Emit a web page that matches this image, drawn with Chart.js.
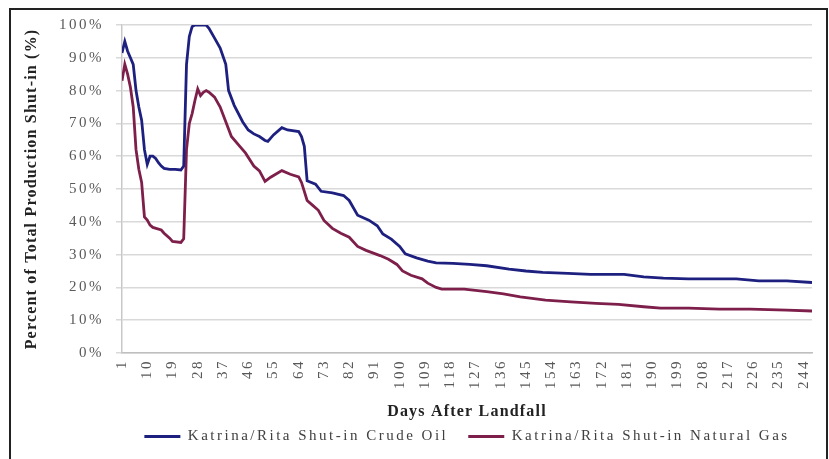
<!DOCTYPE html>
<html>
<head>
<meta charset="utf-8">
<script src="https://cdn.jsdelivr.net/npm/chart.js@4"></script>
<style>
  html, body { margin: 0; padding: 0; background: #fff; }
  #wrap { width: 829px; height: 459px; }
</style>
</head>
<body>
<div id="wrap"><canvas id="lineChart" width="829" height="459"></canvas></div>
<script>
'use strict';
// days after landfall and % shut-in
const oilDays = [1, 2, 3, 4, 5, 6, 7, 8, 9, 10, 11, 12, 13, 14, 15, 16, 18, 20, 22, 23, 24, 25, 26, 27, 31, 32, 34, 36, 38, 39,
    41, 44, 46, 48, 50, 52, 53, 55, 58, 60, 64, 65, 66, 67, 70, 72, 76, 80, 82, 85, 89, 92, 94, 97, 100, 102, 106, 110, 113,
    119, 125, 131, 139, 145, 151, 160, 168, 180, 187, 194, 203, 220, 228, 238, 247];
const oilValues = [91.5, 95, 92, 90, 88, 80, 75, 71, 62, 57.5, 60, 60, 59.3, 58, 57, 56.3, 56, 56, 55.8, 57, 88, 96.5, 99.5, 100, 100, 99, 96, 93, 88, 80,
    75.5, 70.5, 68, 66.8, 66, 64.8, 64.5, 66.5, 68.7, 68, 67.5, 66, 63, 52.5, 51.5, 49.3, 48.8, 48, 46.5, 42, 40.5, 38.8, 36.3, 34.7, 32.5, 30.2, 29, 28, 27.5,
    27.3, 27, 26.6, 25.6, 25, 24.6, 24.3, 24, 24, 23.2, 22.8, 22.6, 22.6, 22, 22, 21.5];

const gasDays = [1, 2, 3, 4, 5, 6, 7, 8, 9, 10, 11, 12, 15, 16, 18, 19, 22, 23, 24, 25, 26, 27, 28, 29, 30, 31, 32, 34, 36, 38,
    40, 43, 45, 48, 50, 52, 54, 58, 61, 64, 65, 67, 69, 71, 73, 76, 79, 82, 85, 88, 93, 96, 99, 101, 104, 108, 110, 113, 115,
    123, 131, 137, 143, 152, 161, 170, 178, 187, 193, 203, 214, 225, 238, 247];
const gasValues = [83, 88, 85, 81, 75, 62, 56, 52, 41.5, 40.5, 39, 38.3, 37.5, 36.5, 35, 34, 33.7, 34.8, 62, 70, 73, 77, 80.5, 78.5, 79.5, 80, 79.5, 78, 75, 70.5,
    66, 63, 61, 57, 55.5, 52.3, 53.6, 55.6, 54.5, 53.7, 52, 46.5, 45, 43.5, 40.4, 38, 36.5, 35.3, 32.5, 31.3, 29.7, 28.6, 27, 25, 23.7, 22.6, 21.3, 20, 19.5,
    19.5, 18.7, 18, 17.1, 16.1, 15.6, 15.1, 14.8, 14.1, 13.7, 13.7, 13.4, 13.4, 13.1, 12.8];

const dayTicks = [1, 10, 19, 28, 37, 46, 55, 64, 73, 82, 91, 100, 109, 118, 127, 136, 145, 154, 163, 172, 181, 190, 199, 208, 217, 226, 235, 244];

const oilLabel = 'Katrina/Rita Shut-in Crude Oil';
const gasLabel = 'Katrina/Rita Shut-in Natural Gas';

const canvas = document.getElementById('lineChart');
const ctx = canvas.getContext('2d');

// the original text is drawn wide, so add letter spacing (less for the bold titles)
function spacingFor(font) {
    return /bold|700/.test(font) ? '1.2px' : '2.5px';
}
const origFill = ctx.fillText;
ctx.fillText = function (...args) {
    this.letterSpacing = spacingFor(this.font);
    return origFill.apply(this, args);
};
const origMeasure = ctx.measureText;
ctx.measureText = function (text) {
    this.letterSpacing = spacingFor(this.font);
    return origMeasure.call(this, text);
};

const framePlugin = {
    id: 'frame',
    beforeDraw(chart) {
        const c = chart.ctx;
        c.save();
        c.fillStyle = '#fff';
        c.fillRect(0, 0, chart.width, chart.height);
        c.strokeStyle = '#222';
        c.lineWidth = 2;
        c.strokeRect(10, 9, 817, 462);
        c.restore();
    }
};

function toPoints(days, values) {
    return days.map((d, i) => ({ x: d, y: values[i] }));
}

Chart.defaults.font.family = "'Liberation Serif', 'Times New Roman', serif";

new Chart(ctx, {
    type: 'line',
    data: {
        datasets: [{
            label: oilLabel,
            data: toPoints(oilDays, oilValues),
            borderColor: '#1e2080',
            backgroundColor: '#1e2080',
            borderWidth: 2.8,
            pointRadius: 0,
            tension: 0
        }, {
            label: gasLabel,
            data: toPoints(gasDays, gasValues),
            borderColor: '#7d1f4a',
            backgroundColor: '#7d1f4a',
            borderWidth: 2.8,
            pointRadius: 0,
            tension: 0
        }]
    },
    options: {
        responsive: false,
        animation: false,
        layout: { padding: { left: 0, top: 25, right: 17, bottom: 5 } },
        plugins: {
            legend: {
                position: 'bottom',
                fullSize: false,
                labels: {
                    usePointStyle: true,
                    pointStyle: 'line',
                    pointStyleWidth: 36,
                    color: '#404040',
                    font: { size: 15 },
                    padding: 20
                }
            },
            tooltip: { enabled: false }
        },
        scales: {
            x: {
                type: 'linear',
                min: 1,
                max: 247,
                afterBuildTicks(scale) {
                    scale.ticks = dayTicks.map(v => ({ value: v }));
                },
                afterFit(scale) {
                    scale.height = 56;
                },
                grid: { display: false, drawTicks: false },
                border: { display: true, color: '#bfbfbf', width: 1.5 },
                ticks: {
                    autoSkip: false,
                    maxRotation: 90,
                    minRotation: 90,
                    padding: 6,
                    color: '#595959',
                    font: { size: 15 }
                },
                title: {
                    display: true,
                    text: 'Days After Landfall',
                    color: '#222',
                    font: { size: 16, weight: 'bold' },
                    padding: { top: 0, bottom: -12 }
                }
            },
            y: {
                min: 0,
                max: 100,
                afterFit(scale) {
                    scale.width = 122;
                },
                grid: { color: '#d9d9d9', lineWidth: 1.5, tickLength: 6 },
                border: { display: true, color: '#c8c8c8', width: 1.5 },
                ticks: {
                    stepSize: 10,
                    padding: 12,
                    color: '#595959',
                    font: { size: 15 },
                    callback: v => v + '%'
                },
                title: {
                    display: true,
                    text: 'Percent of Total Production Shut-in (%)',
                    color: '#222',
                    font: { size: 16, weight: 'bold' },
                    padding: { top: 22, bottom: 0 }
                }
            }
        }
    },
    plugins: [framePlugin]
});
</script>
</body>
</html>
